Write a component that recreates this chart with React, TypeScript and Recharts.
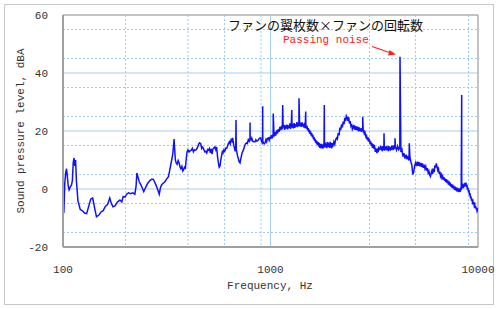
import React from "react"
import { LineChart, Line, XAxis, YAxis, CartesianGrid } from "recharts"

// frequency (Hz) and sound pressure level (dBA)
const freqs = [
  100, 101, 102, 103, 104, 105, 106, 107, 108, 110, 111, 112, 113, 114, 115, 116, 118, 121, 124, 127,
  130, 133, 136, 139, 142, 145, 149, 152, 156, 160, 164, 168, 171, 174, 178, 183, 188, 192, 195, 199,
  203, 207, 212, 217, 222, 225, 227, 230, 233, 235, 240, 245, 250, 256, 263, 268, 272, 276, 280, 286,
  291, 295, 299, 304, 310, 316, 322, 328, 334, 338, 341, 343, 345, 348, 351, 355, 359, 363, 366, 370,
  374, 378, 381, 385, 389, 392, 396, 400, 405, 410, 415, 420, 425, 430, 436, 441, 446, 451, 455, 461,
  466, 470, 474, 478, 483, 488, 493, 498, 503, 508, 513, 518, 523, 528, 534, 539, 545, 550, 556, 561,
  566, 571, 576, 581, 586, 590, 596, 602, 609, 615, 622, 628, 634, 640, 646, 652, 657, 664, 670, 676,
  680, 684, 688, 693, 700, 706, 713, 720, 727, 733, 740, 748, 756, 765, 773, 782, 790, 796, 798, 805,
  812, 820, 830, 842, 850, 860, 873, 885, 897, 905, 912, 916, 918, 925, 933, 941, 950, 958, 966, 976,
  985, 995,
  1000, 1010, 1020, 1030, 1040, 1050, 1060, 1070, 1080, 1090,
  1100, 1110, 1120, 1130, 1140, 1150, 1160, 1170, 1180, 1190,
  1200, 1210, 1220, 1230, 1240, 1250, 1260, 1270, 1280, 1290,
  1300, 1310, 1320, 1330, 1340, 1350, 1360, 1370, 1380, 1390,
  1400, 1410, 1420, 1430, 1440, 1450, 1460, 1470, 1480, 1490,
  1500, 1510, 1520, 1530, 1540, 1550, 1560, 1570, 1580, 1590,
  1600, 1610, 1620, 1630, 1640, 1650, 1660, 1670, 1680, 1690,
  1700, 1710, 1720, 1730, 1740, 1750, 1760, 1770, 1780, 1790,
  1800, 1810, 1820, 1830, 1840, 1850, 1860, 1870, 1880, 1890,
  1900, 1910, 1920, 1930, 1940, 1950, 1960, 1970, 1980, 1990,
  2000, 2020, 2040, 2060, 2080, 2100, 2120, 2140, 2160, 2180,
  2200, 2220, 2240, 2260, 2280, 2300, 2320, 2340, 2360, 2380,
  2400, 2420, 2440, 2460, 2480, 2500, 2520, 2540, 2560, 2580,
  2600, 2620, 2640, 2660, 2680, 2700, 2720, 2740, 2760, 2780,
  2800, 2820, 2840, 2860, 2880, 2900, 2920, 2940, 2960, 2980,
  3000, 3020, 3040, 3060, 3080, 3100, 3120, 3140, 3160, 3180,
  3200, 3220, 3240, 3260, 3280, 3300, 3320, 3340, 3360, 3380,
  3400, 3420, 3440, 3460, 3480, 3500, 3520, 3540, 3560, 3580,
  3600, 3620, 3640, 3660, 3680, 3700, 3720, 3740, 3760, 3780,
  3800, 3820, 3840, 3860, 3880, 3900, 3920, 3940, 3960, 3980,
  4000, 4050, 4100, 4150, 4200, 4250, 4300, 4350, 4400, 4450,
  4500, 4550, 4600, 4650, 4700, 4750, 4800, 4850, 4900, 4950,
  5000, 5050, 5100, 5150, 5200, 5250, 5300, 5350, 5400, 5450,
  5500, 5550, 5600, 5650, 5700, 5750, 5800, 5850, 5900, 5950,
  6000, 6050, 6100, 6150, 6200, 6250, 6300, 6350, 6400, 6450,
  6500, 6550, 6600, 6650, 6700, 6750, 6800, 6850, 6900, 6950,
  7000, 7050, 7100, 7150, 7200, 7250, 7300, 7350, 7400, 7450,
  7500, 7550, 7600, 7650, 7700, 7750, 7800, 7850, 7900, 7950,
  8000, 8050, 8100, 8150, 8200, 8250, 8300, 8350, 8400, 8450,
  8500, 8550, 8600, 8650, 8700, 8750, 8800, 8850, 8900, 8950,
  9000, 9050, 9100, 9150, 9200, 9250, 9300, 9350, 9400, 9450,
  9500, 9550, 9600, 9650, 9700, 9750, 9800, 9850, 9900, 9950,
  10000,
]

const levels = [
  -7.5, -7.8, 2, 5.5, 7, 4, 1, -0.3, 0.5, 1.5, 3, 9, 10.7, 8, 10, 3, -4, -7, -7.5, -8.3,
  -8.5, -6, -3.5, -3.1, -6.5, -9.6, -9, -8, -7.5, -6, -5.3, -3.1, -5, -6.1, -5.8, -4.5, -3.8, -4.5, -2.6, -2.8,
  -1.7, -1.3, -1.6, -1.3, -1.8, 1, 5.5, 4, 2.5, 2, 0.7, -0.9, 0.5, 2, 3, 3.4, 3.4, 2.5, 1.5, -0.2,
  -1.8, 0.5, 1.5, 2, 2.5, 3.5, 4.2, 7, 10, 12, 15, 17.2, 14, 10, 9, 8.5, 9.8, 9, 7.7, 7,
  7.8, 6.2, 6.6, 7.5, 7.2, 10, 12.8, 13.5, 12.8, 13.2, 13.4, 14, 12.8, 13.5, 13.4, 13.8, 14.5, 15.5, 15.9, 15.6,
  14, 14.5, 14.2, 13.5, 12.8, 13, 12.4, 13.6, 13.4, 14, 12.5, 13.8, 12, 13.8, 14.2, 14.5, 13.5, 14.5, 11, 9,
  7.5, 7.9, 10, 11.5, 12.8, 12.4, 13.5, 13, 14.1, 14, 15, 15.8, 16.3, 15.5, 17, 16.5, 17.6, 15.5, 14.1, 13,
  14, 13.5, 12.8, 11.5, 10.5, 9.4, 9, 10.5, 12, 12.8, 13.4, 14.5, 15.5, 15.9, 15.7, 17, 16.5, 17.2, 17.5, 17,
  17.6, 16.5, 16.3, 16.3, 17, 16.5, 16.9, 17.5, 17.6, 16.5, 16, 17, 16.5, 15.9, 15.6, 15.9, 17, 16.3, 17.4, 17.6,
  16.8, 18,
  17.2, 18.6, 17.5, 19.0, 18.1, 19.6, 18.4, 20.2, 19.1, 20.6,
  19.7, 21.4, 20.2, 21.8, 20.6, 21.2, 22.1, 20.4, 21.9, 20.8,
  22.2, 20.6, 21.9, 21.0, 22.6, 20.7, 22.3, 21.2, 22.5, 20.9,
  22.7, 21.1, 22.4, 21.5, 23.1, 21.3, 22.8, 21.7, 23.2, 21.6,
  22.9, 21.4, 23.0, 21.6, 22.5, 21.2, 22.8, 21.0, 22.4, 20.8,
  21.8, 20.2, 21.0, 19.6, 20.5, 19.0, 19.9, 18.4, 19.3, 17.9,
  18.7, 17.2, 18.0, 16.6, 17.3, 16.0, 16.8, 15.4, 16.4, 15.1,
  16.2, 14.6, 15.8, 14.2, 15.5, 14.0, 15.6, 14.3, 15.2, 13.9,
  15.6, 14.2, 15.8, 14.5, 16.0, 14.3, 15.5, 14.1, 16.2, 14.6,
  16.0, 14.4, 15.7, 14.2, 16.3, 14.8, 15.9, 14.0, 15.8, 14.5,
  15.0, 16.3, 15.4, 17.0, 17.6, 17.2, 19.3, 18.5, 21.2, 20.3,
  22.3, 21.2, 23.2, 22.3, 24.5, 23.4, 25.2, 24.6, 23.5, 24.8,
  22.6, 23.4, 21.8, 22.5, 20.6, 21.2, 22.1, 20.5, 21.8, 20.4,
  21.6, 20.2, 21.4, 19.9, 21.2, 20.1, 20.9, 19.7, 21.0, 20.3,
  19.4, 20.3, 18.6, 19.2, 18.2, 18.8, 17.0, 17.9, 16.4, 17.2,
  16.9, 15.6, 16.4, 14.9, 15.8, 14.2, 15.5, 13.9, 15.2, 14.4,
  12.8, 14.0, 13.2, 12.4, 13.9, 12.7, 14.6, 13.3, 14.2, 13.6,
  14.9, 13.4, 14.6, 13.0, 14.8, 13.5, 14.3, 13.2, 14.7, 13.6,
  14.6, 13.3, 14.9, 13.5, 14.2, 13.0, 14.8, 13.4, 14.5, 13.2,
  14.4, 13.5, 15.0, 13.7, 14.6, 13.4, 15.1, 13.8, 14.5, 14.0,
  14.6, 13.4, 14.8, 13.6, 14.3, 12.8, 13.6, 11.2, 12.3, 10.5,
  11.8, 10.2, 11.4, 9.8, 10.8, 9.4, 8.2, 5.0, 5.8, 8.0,
  9.0, 7.9, 9.4, 8.0, 9.3, 7.8, 9.0, 7.6, 8.8, 7.3,
  8.4, 7.0, 7.8, 6.3, 7.2, 5.6, 6.2, 4.8, 4.3, 5.6,
  6.4, 5.2, 7.0, 5.8, 8.2, 7.4, 8.8, 7.6, 6.4, 7.0,
  5.2, 6.0, 4.4, 5.0, 3.8, 4.4, 3.2, 4.1, 2.8, 3.6,
  2.4, 3.4, 2.0, 3.0, 1.5, 2.6, 1.2, 2.2, 0.8, 1.7,
  0.4, 1.5, 0.2, 1.1, -0.3, 0.8, -0.5, 0.6, -0.8, 0.4,
  -0.9, 0.2, -1.1, 0.1, -1.0, 0.5, -0.4, 0.9, 0.2, 1.9,
  0.3, 1.6, 0.8, 2.1, 1.0, 2.2, 0.6, 1.4, -0.2, 0.4,
  -1.2, -0.4, -2.2, -1.4, -3.2, -2.5, -4.0, -3.3, -4.6, -4.2,
  -5.3, -4.6, -5.8, -5.4, -6.6, -6.0, -7.0, -6.5, -7.6, -7.2,
  -7.8,
]

// narrow tonal peaks (blade passing and harmonics)
const spikeFreqs = [682, 797, 917, 1031, 1145, 1266, 1372, 1478, 1817, 2782, 3524, 3981, 4209, 4666, 8345]
const spikeLevels = [23.8, 22.9, 28.5, 26, 29, 27.2, 31.3, 26.7, 29, 24.9, 19.2, 17.5, 45.6, 15.8, 32.4]

const xTicks = [100, 1000, 10000]
const yTicks = [-20, 0, 20, 40, 60]
const xMinor = [200, 300, 400, 500, 600, 700, 800, 900, 2000, 3000, 4000, 5000, 6000, 7000, 8000, 9000]
const yMinor = [-15, -10, -5, 5, 10, 15, 25, 30, 35, 45, 50, 55]
const xMajor = [1000]
const yMajor = [0, 20, 40]

const data = freqs
  .map((f, i) => ({ f, db: levels[i] }))
  .concat(spikeFreqs.map((f, i) => ({ f, db: spikeLevels[i] })))
  .sort((a, b) => a.f - b.f)

const mono = "'Liberation Mono', 'DejaVu Sans Mono', monospace"
const tickStyle = { fontFamily: mono, fontSize: 11, fill: "#333" }

export default function App() {
  return (
    <div style={{ position: "absolute", left: 0, top: 0, width: 500, height: 309, background: "#fff" }}>
      <div
        style={{
          position: "absolute",
          left: 4,
          top: 4,
          width: 490,
          height: 301,
          border: "1px solid #c8c8c8",
          boxSizing: "border-box",
        }}
      />
      <LineChart
        width={500}
        height={309}
        data={data}
        margin={{ top: 15, right: 22, left: 0, bottom: 0 }}
        style={{ position: "absolute", left: 0, top: 0 }}
      >
        <CartesianGrid
          stroke="#9fcaf3"
          strokeDasharray="2 2"
          verticalValues={xMinor}
          horizontalValues={yMinor}
        />
        <CartesianGrid stroke="#a6cdf2" verticalValues={xMajor} horizontalValues={yMajor} />
        <CartesianGrid stroke="#b0b0b0" strokeWidth={1.5} verticalValues={[10000]} horizontalValues={[60]} />
        <XAxis
          dataKey="f"
          type="number"
          scale="log"
          domain={[100, 10000]}
          ticks={xTicks}
          allowDataOverflow
          height={62}
          tickLine={false}
          tickMargin={12}
          axisLine={{ stroke: "#a0a0a0", strokeWidth: 2 }}
          tick={tickStyle}
        />
        <YAxis
          type="number"
          domain={[-20, 60]}
          ticks={yTicks}
          width={63}
          tickLine={false}
          tickMargin={9}
          axisLine={{ stroke: "#a0a0a0", strokeWidth: 2 }}
          tick={tickStyle}
        />
        <Line
          dataKey="db"
          type="linear"
          stroke="#1010ff"
          strokeWidth={1.5}
          dot={false}
          isAnimationActive={false}
        />
      </LineChart>
      <svg width={500} height={309} style={{ position: "absolute", left: 0, top: 0, pointerEvents: "none" }}>
        <text
          x={21}
          y={131}
          transform="rotate(-90 21 131)"
          textAnchor="middle"
          dominantBaseline="central"
          style={{ fontFamily: mono, fontSize: 11, fill: "#333" }}
        >
          Sound pressure level, dBA
        </text>
        <text
          x={270}
          y={286}
          textAnchor="middle"
          dominantBaseline="central"
          style={{ fontFamily: mono, fontSize: 11, fill: "#333" }}
        >
          Frequency, Hz
        </text>
        <text
          x={228}
          y={24}
          dominantBaseline="central"
          style={{ fontFamily: "'Noto Sans CJK JP', sans-serif", fontSize: 13, fill: "#111" }}
        >
          ファンの翼枚数×ファンの回転数
        </text>
        <text
          x={283}
          y={40}
          dominantBaseline="central"
          style={{ fontFamily: mono, fontSize: 11, fill: "#ff2020" }}
        >
          Passing noise
        </text>
        <line x1={372} y1={46.5} x2={391} y2={53} stroke="#ff2020" strokeWidth={1.3} />
        <polygon points="396,54.5 389.5,50 388,55.5" fill="#ff2020" />
      </svg>
    </div>
  )
}
